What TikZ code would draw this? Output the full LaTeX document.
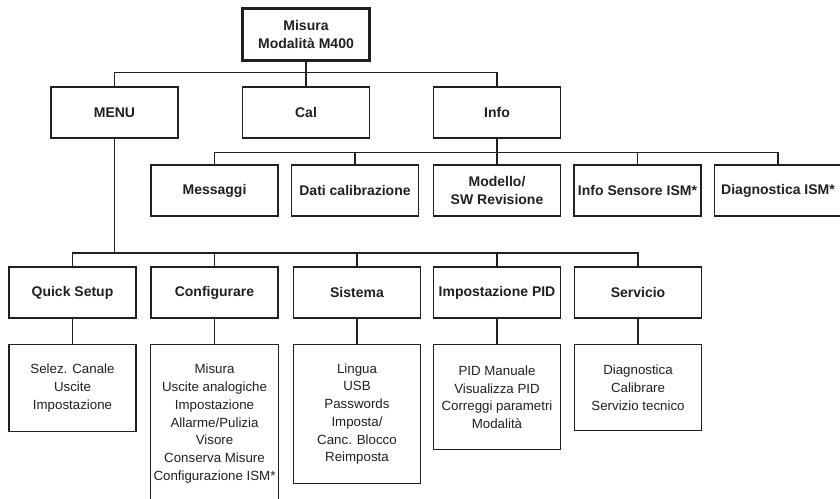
\documentclass[tikz,border=0pt]{standalone}
\usepackage{fontspec}
\setmainfont{Liberation Sans}
\usepackage{tikz}
\usetikzlibrary{positioning, calc}
\definecolor{mydark}{RGB}{35,31,32}
\tikzset{
  headbox/.style={rectangle, draw=mydark, text=mydark,
    minimum width=127pt, minimum height=51pt, align=center,
    font=\fontsize{14}{17.7}\selectfont\bfseries, line width=1.2pt},
  topbox/.style={headbox, line width=3pt, minimum height=52pt},
  listbox/.style={rectangle, draw=mydark, text=mydark, anchor=north,
    minimum width=127pt, align=center,
    font=\fontsize{13.3}{17.7}\selectfont, line width=1.2pt},
  link/.style={mydark, line width=1.2pt}
}
\begin{document}
\begin{tikzpicture}[x=1pt, y=-1pt]
  \clip (0,0) rectangle (840,498);
  \fill[white] (0,0) rectangle (840,498);

  % Top level
  \node[topbox] (top) at (306,34.5) {Misura\\Modalità M400};
  \node[headbox] (menu) at (114.5,112.5) {MENU};
  \node[headbox] (cal)  at (306,112.5) {Cal};
  \node[headbox] (info) at (497,112.5) {Info};

  \draw[link] (top) -- (cal);
  \draw[link] (menu.north) -- ++(0,-14) -| (info.north);

  % Info branch
  \node[headbox] (msg)  at (214.5,190.5) {Messaggi};
  \node[headbox] (dati) at (355,190.5) {Dati calibrazione};
  \node[headbox] (mod)  at (497,190.5) {Modello/\\SW Revisione};
  \node[headbox] (sens) at (637.5,190.5) {Info Sensore ISM*};
  \node[headbox] (diag) at (778,190.5) {Diagnostica ISM*};

  \draw[link] (info) -- (mod);
  \draw[link] (msg.north) -- ++(0,-12) -| (diag.north);
  \foreach \n in {dati, sens} {
    \draw[link] (\n.north) -- ++(0,-12);
  }

  % Menu branch
  \coordinate (mbus) at (0,253);
  \node[headbox] (quick) at (72.5,292.5) {Quick Setup};
  \node[headbox] (conf)  at (214.5,292.5) {Configurare};
  \node[headbox] (sist)  at (357,292.5) {Sistema};
  \node[headbox] (pid)   at (497,292.5) {Impostazione PID};
  \node[headbox] (serv)  at (638,292.5) {Servicio};

  \draw[link] (menu.south) -- (menu.south |- mbus);
  \draw[link] (quick.north) -- (quick.north |- mbus) -| (serv.north);
  \foreach \n in {conf, sist, pid} {
    \draw[link] (\n.north) -- (\n.north |- mbus);
  }

  % Sub menus
  \node[listbox, minimum height=87pt] (quicklist) at (72.5,344)
    {Selez. Canale\\Uscite\\Impostazione};
  \node[listbox, minimum height=158pt] (conflist) at (214.5,344)
    {Misura\\Uscite analogiche\\Impostazione\\Allarme/Pulizia\\Visore\\Conserva Misure\\Configurazione ISM*};
  \node[listbox, minimum height=139pt] (sistlist) at (357,344)
    {Lingua\\USB\\Passwords\\Imposta/\\Canc. Blocco\\Reimposta};
  \node[listbox, minimum height=105pt] (pidlist) at (497,344)
    {PID Manuale\\Visualizza PID\\Correggi parametri\\Modalità};
  \node[listbox, minimum height=86pt] (servlist) at (638,344)
    {Diagnostica\\Calibrare\\Servizio tecnico};

  \foreach \n in {quick, conf, sist, pid, serv} {
    \draw[link] (\n.south) -- (\n list.north);
  }
\end{tikzpicture}
\end{document}
